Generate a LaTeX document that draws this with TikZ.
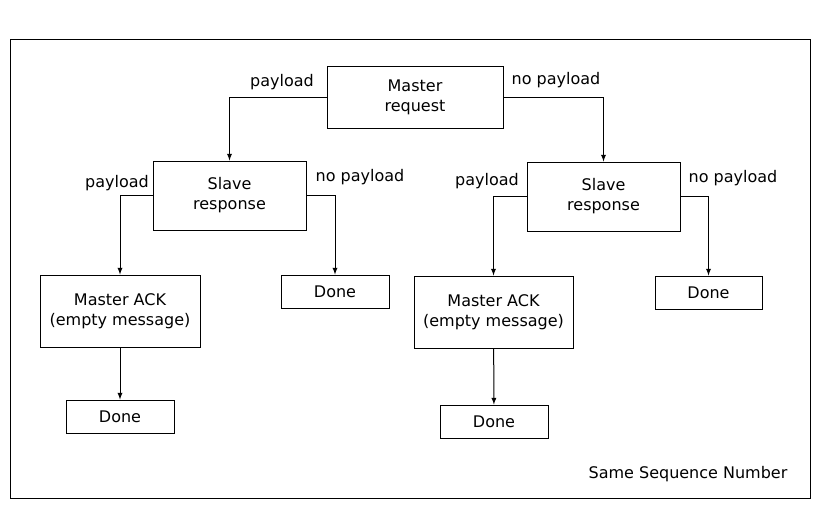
\documentclass[tikz,border=0pt]{standalone}
\usepackage{fontspec}
\setmainfont{DejaVu Sans}
\begin{document}
\begin{tikzpicture}[x=0.75pt,y=-0.75pt,line width=0.75pt,
  box/.style={draw,fill=white,align=center,inner sep=0pt,font=\fontsize{12}{15}\selectfont},
  lab/.style={font=\fontsize{12}{15}\selectfont,inner sep=0pt},
  arr/.style={-latex}]
\useasboundingbox (0,0) rectangle (820,510);
\fill[white] (0,0) rectangle (820,510);
\draw (10,40) rectangle (810,498);
\node[box,minimum width=176*0.75pt,minimum height=61*0.75pt] (mr) at (415,97.5) {Master\\request};
\node[box,minimum width=153*0.75pt,minimum height=69*0.75pt] (sl) at (229.5,195.5) {Slave\\response};
\node[box,minimum width=153*0.75pt,minimum height=69*0.75pt] (sr) at (603.5,196.5) {Slave\\response};
\node[box,minimum width=160*0.75pt,minimum height=72*0.75pt] (al) at (120,311) {Master ACK\\(empty message)};
\node[box,minimum width=159*0.75pt,minimum height=72*0.75pt] (ar) at (493.5,312) {Master ACK\\(empty message)};
\node[box,minimum width=108*0.75pt,minimum height=33*0.75pt] (dl1) at (335,291.5) {Done};
\node[box,minimum width=107*0.75pt,minimum height=33*0.75pt] (dr1) at (708.5,292.5) {Done};
\node[box,minimum width=108*0.75pt,minimum height=33*0.75pt] (dl2) at (120,416.5) {Done};
\node[box,minimum width=108*0.75pt,minimum height=33*0.75pt] (dr2) at (494,421.5) {Done};
\draw[arr] (mr.west) -| (sl.north);
\draw[arr] (mr.east) -| (sr.north);
\draw[arr] (sl.west) -| (al.north);
\draw[arr] (sl.east) -| (dl1.north);
\draw[arr] (sr.west) -| (ar.north);
\draw[arr] (sr.east) -| (dr1.north);
\draw[arr] (al) -- (dl2);
\draw[arr] (ar) -- (dr2);
\node[lab] (l1) at (282,82) {payload};
\node[lab] (l2) at (556,80) {no payload};
\node[lab] (l3) at (117,183) {payload};
\node[lab] (l4) at (360,177) {no payload};
\node[lab] (l5) at (487,181) {payload};
\node[lab] (l6) at (733,178) {no payload};
\node[lab] (ssn) at (688,474) {Same Sequence Number};
\end{tikzpicture}
\end{document}
